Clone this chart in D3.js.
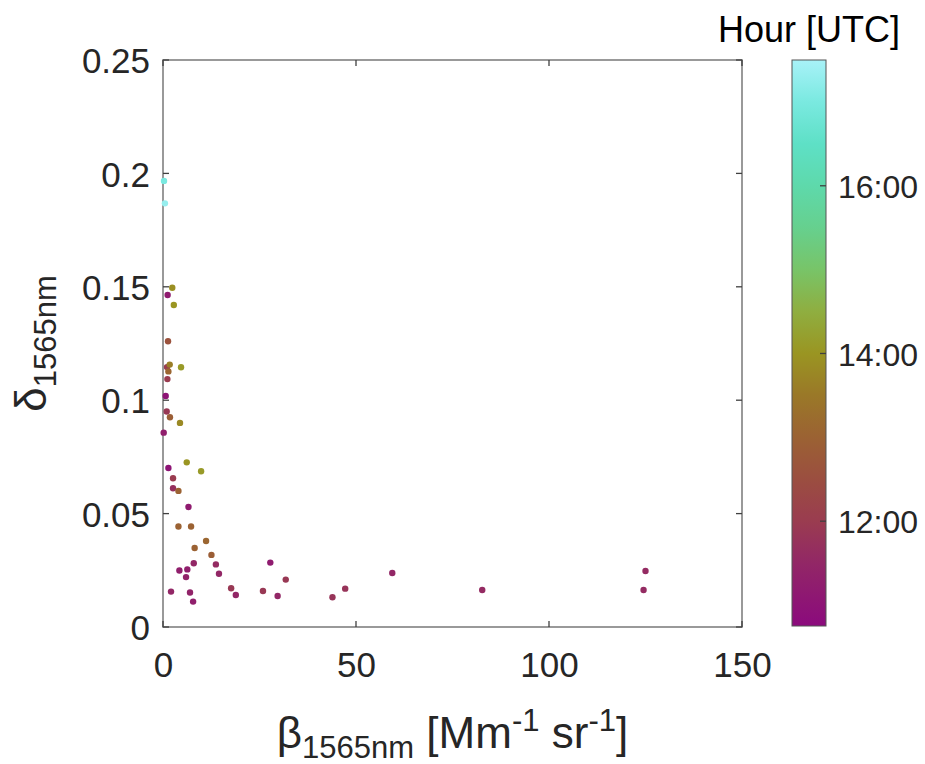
<!DOCTYPE html>
<html><head><meta charset="utf-8">
<script src="https://cdn.jsdelivr.net/npm/d3@7"></script>
<style>body{margin:0;background:#fff}svg{display:block}text{font-family:"Liberation Sans",Arial,sans-serif;fill:#262626}</style>
</head><body><svg id="c" width="925" height="764"></svg>
<script>
// backscatter beta (Mm^-1 sr^-1)
const beta = [0.26,0.5,2.4,1.2,2.8,1.3,1.04,1.74,1.4,4.67,1.14,0.7,0.96,1.8,4.4,0.18,1.4,6.15,9.87,2.6,2.6,4.0,6.6,4.0,7.27,11.16,8.2,12.55,7.97,13.7,4.25,6.3,5.97,14.5,2.08,7.0,7.8,17.65,18.86,25.9,27.8,31.8,29.7,43.9,47.2,59.4,82.7,125,124.5];
// depolarization ratio delta
const delta = [0.1967,0.1868,0.1496,0.1464,0.142,0.126,0.1146,0.1157,0.1127,0.1145,0.1093,0.1019,0.095,0.0925,0.09,0.0857,0.0701,0.0726,0.0687,0.0656,0.0612,0.06,0.0529,0.0443,0.0443,0.0379,0.0348,0.0318,0.0281,0.0276,0.0249,0.0254,0.022,0.0235,0.0156,0.0152,0.0112,0.0171,0.0141,0.0159,0.0284,0.0209,0.0137,0.0131,0.0169,0.0238,0.0163,0.0247,0.0163];
// hour (UTC)
const hour = [17.0,17.3,13.9,11.2,14.0,12.6,12.0,13.6,13.1,14.1,12.0,11.0,11.9,12.9,13.8,11.3,11.0,14.0,14.1,12.0,11.7,13.0,11.2,13.0,13.0,13.1,13.0,12.9,11.5,11.6,11.3,11.3,11.4,11.5,11.5,11.4,11.3,11.9,11.5,11.9,11.2,11.9,11.5,11.8,11.8,11.5,11.6,11.6,11.6];

const xTicks = [0,50,100,150];
const yTicks = [0,0.05,0.1,0.15,0.2,0.25];
const yTickLabels = ["0","0.05","0.1","0.15","0.2","0.25"];
const cTicks = [12,14,16];
const cTickLabels = ["12:00","14:00","16:00"];
const hourRange = [10.75,17.5];
const cmapHours = [10.75,11.5,12.0,12.5,13.0,13.5,14.0,14.5,15.0,15.5,16.0,16.5,17.0,17.5];
const cmapColors = ["#8b0a7d","#922766","#9a3c50","#9b4e40","#9b6233","#9a7828","#9a9522","#8fae40","#78c468","#66d08e","#5ed9ab","#5ee0c6","#7ae9e0","#a8f2f8"];

const svg = d3.select("#c");
const L=163,R=742,T=60,B=627;
const x = d3.scaleLinear().domain([0,150]).range([L,R]);
const y = d3.scaleLinear().domain([0,0.25]).range([B,T]);
const col = d3.scaleLinear().domain(cmapHours).range(cmapColors).interpolate(d3.interpolateRgb).clamp(true);

// axes box
svg.append("rect").attr("x",L).attr("y",T).attr("width",R-L).attr("height",B-T)
  .attr("fill","none").attr("stroke","#808080").attr("stroke-width",1.6);

const fs=35;
// x axis
const xa = svg.append("g").attr("transform",`translate(0,${B})`)
  .call(d3.axisBottom(x).tickValues(xTicks).tickSize(0).tickPadding(0).tickFormat(d3.format("d")));
xa.select(".domain").remove();
xa.selectAll("text").attr("font-size",fs).attr("dy",null).attr("y",50).style("font-family","Liberation Sans, Arial").attr("fill","#262626");
xTicks.forEach(t=>{
  svg.append("line").attr("x1",x(t)).attr("x2",x(t)).attr("y1",B).attr("y2",B-6).attr("stroke","#404040").attr("stroke-width",1.3);
  svg.append("line").attr("x1",x(t)).attr("x2",x(t)).attr("y1",T).attr("y2",T+6).attr("stroke","#404040").attr("stroke-width",1.3);
});
// y axis
const ya = svg.append("g").attr("transform",`translate(${L},0)`)
  .call(d3.axisLeft(y).tickValues(yTicks).tickSize(0).tickPadding(13).tickFormat((d,i)=>yTickLabels[i]));
ya.select(".domain").remove();
ya.selectAll("text").attr("font-size",fs).attr("dy","0.36em").style("font-family","Liberation Sans, Arial").attr("fill","#262626");
yTicks.forEach(t=>{
  svg.append("line").attr("x1",L).attr("x2",L+6).attr("y1",y(t)).attr("y2",y(t)).attr("stroke","#404040").attr("stroke-width",1.3);
  svg.append("line").attr("x1",R).attr("x2",R-6).attr("y1",y(t)).attr("y2",y(t)).attr("stroke","#404040").attr("stroke-width",1.3);
});

// points
const pts = beta.map((b,i)=>({b,d:delta[i],h:hour[i]}));
svg.append("g").selectAll("circle").data(pts).join("circle")
  .attr("cx",d=>x(d.b)).attr("cy",d=>y(d.d)).attr("r",3.2).attr("fill",d=>col(d.h));

// x label
const xl = svg.append("text").attr("x",(L+R)/2).attr("y",748).attr("text-anchor","middle").attr("font-size",44);
xl.append("tspan").text("β");
xl.append("tspan").attr("font-size",31).attr("dy",10).text("1565nm");
xl.append("tspan").attr("dy",-10).text(" [Mm");
xl.append("tspan").attr("font-size",31).attr("dy",-17).text("-1");
xl.append("tspan").attr("dy",17).text(" sr");
xl.append("tspan").attr("font-size",31).attr("dy",-17).text("-1");
xl.append("tspan").attr("dy",17).text("]");

// y label
const yl = svg.append("text").attr("transform",`translate(46,${(T+B)/2}) rotate(-90)`).attr("text-anchor","middle").attr("font-size",44);
yl.append("tspan").text("δ");
yl.append("tspan").attr("font-size",31).attr("dy",10).text("1565nm");

// colorbar
const cL=792,cR=826,cT=60,cB=626;
const cy = d3.scaleLinear().domain(hourRange).range([cB,cT]);
const grad = svg.append("defs").append("linearGradient").attr("id","cg").attr("x1",0).attr("y1",1).attr("x2",0).attr("y2",0);
cmapHours.forEach((h,i)=>grad.append("stop").attr("offset",(h-hourRange[0])/(hourRange[1]-hourRange[0])).attr("stop-color",cmapColors[i]));
svg.append("rect").attr("x",cL).attr("y",cT).attr("width",cR-cL).attr("height",cB-cT).attr("fill","url(#cg)").attr("stroke","#555").attr("stroke-width",1);
const ca = svg.append("g").attr("transform",`translate(${cR},0)`)
  .call(d3.axisRight(cy).tickValues(cTicks).tickSize(0).tickPadding(12).tickFormat((d,i)=>cTickLabels[i]));
ca.select(".domain").remove();
ca.selectAll("text").attr("font-size",32).attr("dy","0.36em").style("font-family","Liberation Sans, Arial").attr("fill","#262626");
cTicks.forEach(t=>svg.append("line").attr("x1",cR).attr("x2",cR-6).attr("y1",cy(t)).attr("y2",cy(t)).attr("stroke","#404040").attr("stroke-width",1.3));
svg.append("text").attr("x",(cL+cR)/2).attr("y",42).attr("text-anchor","middle").attr("font-size",36).style("fill","#000").text("Hour [UTC]");
</script></body></html>
